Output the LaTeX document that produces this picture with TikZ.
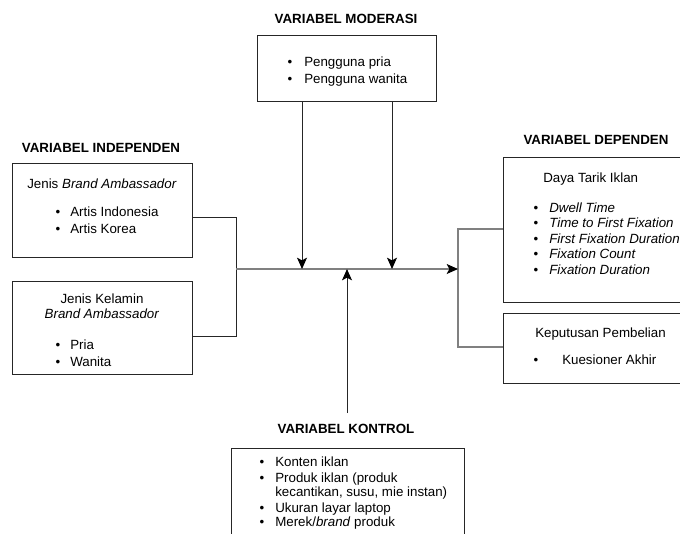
\documentclass[tikz,border=0pt]{standalone}
\usepackage{fontspec}
\setmainfont{Liberation Sans}
\usetikzlibrary{arrows.meta,fit}
\begin{document}
\begin{tikzpicture}[x=0.75pt,y=-0.75pt,
  font=\fontsize{10}{12}\selectfont,
  box/.style={draw=black!85, line width=0.75pt, inner sep=0pt},
  head/.style={font=\fontsize{10}{12}\selectfont\bfseries, anchor=base, inner sep=0pt},
  txt/.style={anchor=base west, inner sep=0pt},
  ctxt/.style={anchor=base, inner sep=0pt},
  bul/.style={anchor=base, inner sep=0pt},
  dline/.style={draw=black!85, line width=0.75pt},
  gline/.style={draw=black!50, line width=0.9pt},
  arr/.style={-{Stealth[length=8.5pt,width=7.5pt,inset=2pt,color=black]}},
]
\useasboundingbox (0,0) rectangle (680,533);
\clip (0,0) rectangle (680,533);

% ---- Moderation ----
\node[head] (hmod) at (346,23) {VARIABEL MODERASI};
\node[box, fit={(257,35) (436,101)}] (mod) {};
\node[bul] (mb1) at (290,66) {•};
\node[txt] (mt1) at (304,66) {Pengguna pria};
\node[bul] (mb2) at (290,83) {•};
\node[txt] (mt2) at (304,83) {Pengguna wanita};

% ---- Independent ----
\node[head] (hind) at (101,152) {VARIABEL INDEPENDEN};
\node[box, fit={(12,163) (192,257)}] (b1) {};
\node[ctxt] (b1t) at (102,188) {Jenis \textit{Brand Ambassador}};
\node[bul] (b1b1) at (58,216) {•};
\node[txt] (b1i1) at (70,216) {Artis Indonesia};
\node[bul] (b1b2) at (58,233) {•};
\node[txt] (b1i2) at (70,233) {Artis Korea};

\node[box, fit={(12,281) (192,374)}] (b2) {};
\node[ctxt] (b2t1) at (102,303) {Jenis Kelamin};
\node[ctxt] (b2t2) at (102,318) {\textit{Brand Ambassador}};
\node[bul] (b2b1) at (58,349) {•};
\node[txt] (b2i1) at (70,349) {Pria};
\node[bul] (b2b2) at (58,366) {•};
\node[txt] (b2i2) at (70,366) {Wanita};

% ---- Dependent ----
\node[head] (hdep) at (596,144) {VARIABEL DEPENDEN};
\node[box, fit={(503,157) (692,302)}] (b3) {};
\node[txt] (b3t) at (543,182) {Daya Tarik Iklan};
\node[bul] (b3b1) at (536,212) {•};
\node[txt] (b3i1) at (549,212) {\textit{Dwell Time}};
\node[bul] (b3b2) at (536,227.5) {•};
\node[txt] (b3i2) at (549,227.5) {\textit{Time to First Fixation}};
\node[bul] (b3b3) at (536,243) {•};
\node[txt] (b3i3) at (549,243) {\textit{First Fixation Duration}};
\node[bul] (b3b4) at (536,258.5) {•};
\node[txt] (b3i4) at (549,258.5) {\textit{Fixation Count}};
\node[bul] (b3b5) at (536,274) {•};
\node[txt] (b3i5) at (549,274) {\textit{Fixation Duration}};

\node[box, fit={(503,313) (692,383)}] (b4) {};
\node[txt] (b4t) at (535,337) {Keputusan Pembelian};
\node[bul] (b4b1) at (536,364) {•};
\node[txt] (b4i1) at (562,364) {Kuesioner Akhir};

% ---- Control ----
\node[head] (hkon) at (346,433) {VARIABEL KONTROL};
\node[box, fit={(231,448) (464,560)}] (kon) {};
\node[bul] (kb1) at (262,466) {•};
\node[txt] (ki1) at (275,466) {Konten iklan};
\node[bul] (kb2) at (262,482) {•};
\node[txt] (ki2) at (275,482) {Produk iklan (produk};
\node[txt] (ki2b) at (275,496) {kecantikan, susu, mie instan)};
\node[bul] (kb3) at (262,512) {•};
\node[txt] (ki3) at (275,512) {Ukuran layar laptop};
\node[bul] (kb4) at (262,526) {•};
\node[txt] (ki4) at (275,526) {Merek/\textit{brand} produk};

% ---- junction coordinates ----
\coordinate (l1) at (236,217);
\coordinate (l2) at (236,336);
\coordinate (lm) at (236,269);
\coordinate (r1) at (458,229);
\coordinate (r2) at (458,347);
\coordinate (rm) at (458,269);
\coordinate (d1) at (302,269);
\coordinate (d2) at (392,269);
\coordinate (u1) at (347,269);
\coordinate (us) at (347,413);

% ---- connectors ----
\draw[dline] (b1.east |- l1) -- (l1) -- (l2) -- (b2.east |- l2);
\draw[gline] (b3.west |- r1) -- (r1) -- (r2) -- (b4.west |- r2);
\draw[gline, arr] (lm) -- (rm);
\draw[dline, arr] (mod.south -| d1) -- (d1);
\draw[dline, arr] (mod.south -| d2) -- (d2);
\draw[dline, arr] (us) -- (u1);
\end{tikzpicture}
\end{document}
